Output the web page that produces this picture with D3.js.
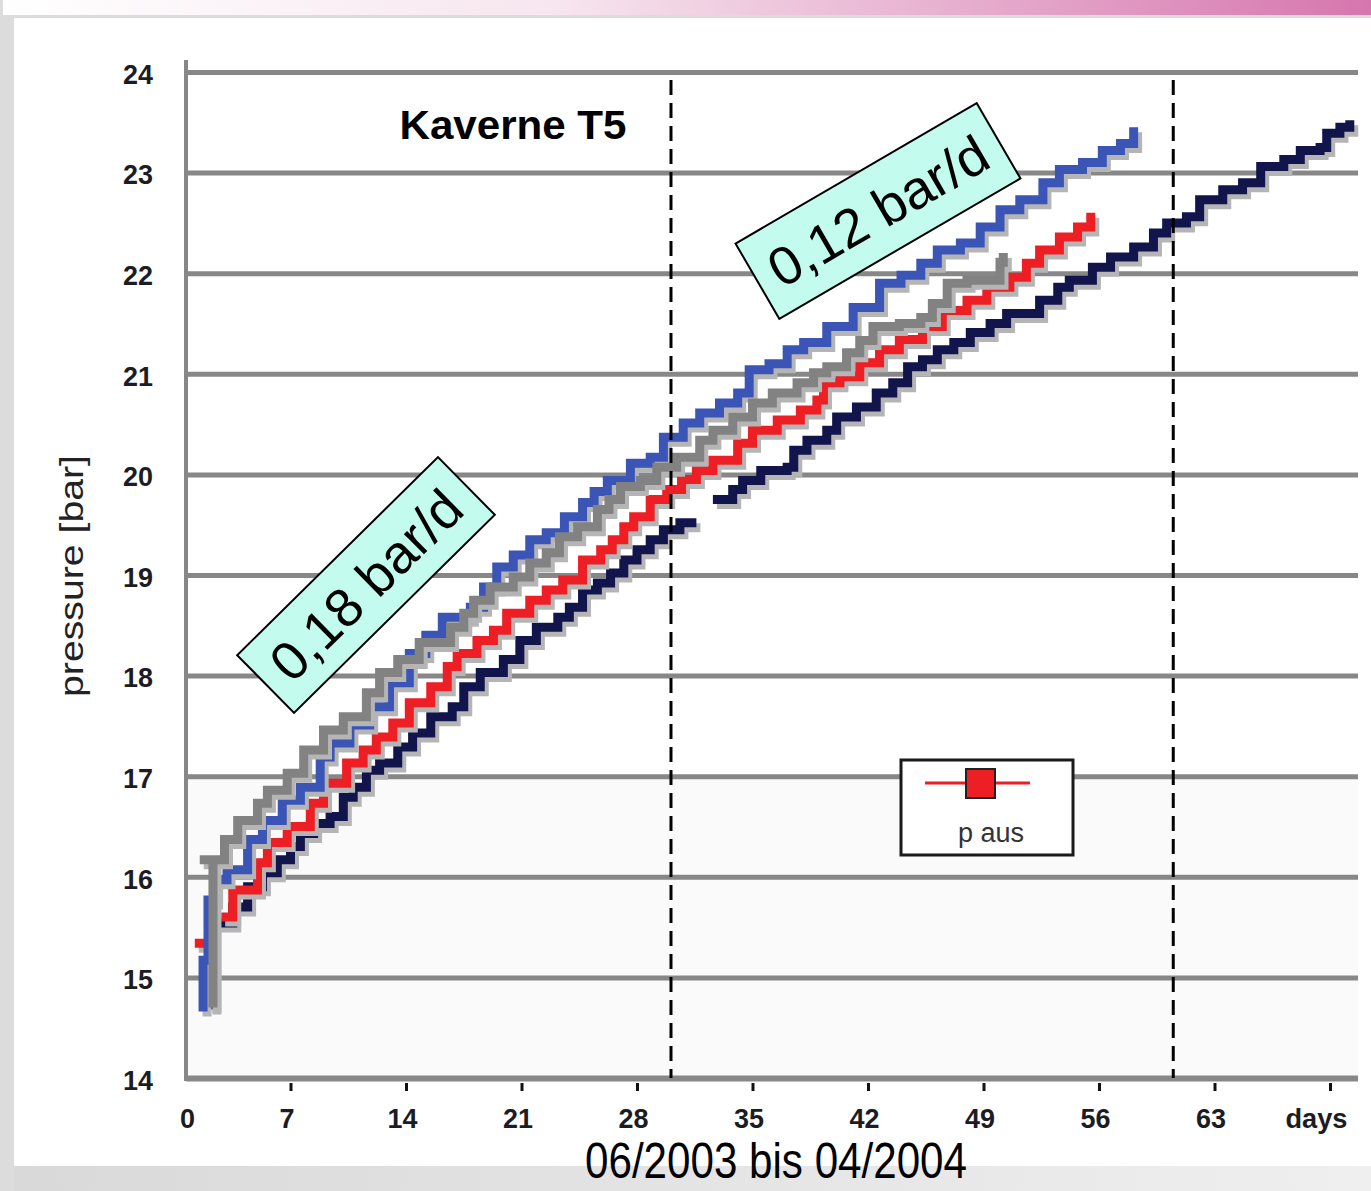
<!DOCTYPE html>
<html>
<head>
<meta charset="utf-8">
<script src="https://cdn.jsdelivr.net/npm/d3@7"></script>
<style>
body { margin: 0; background: #dcdcdc; }
svg { display: block; }
</style>
</head>
<body>
<div class="chart"></div>
<script>
// pressure ticks and day ticks
var yTicks = [14, 15, 16, 17, 18, 19, 20, 21, 22, 23, 24];
var xTicks = [0, 7, 14, 21, 28, 35, 42, 49, 56, 63, 70];
var phaseDays = [30.06, 60.5];

// p aus curves, [day, bar] (null = gap)
var navyPts = [[2.3,14.68],[2.3,15.54],[1.9,15.54],[3.5,15.7],[4.4,15.9],[5.3,16.04],[6.2,16.17],[7.0,16.3],
    [7.6,16.43],[8.4,16.53],[9.4,16.6],[10.2,16.79],[10.8,16.89],[11.6,17.06],[12.4,17.13],[13.5,17.29],
    [14.4,17.43],[15.5,17.59],[16.8,17.69],[17.5,17.89],[18.5,18.03],[19.9,18.16],[20.9,18.35],[21.9,18.48],
    [23.2,18.58],[23.9,18.68],[24.7,18.85],[25.6,18.92],[26.4,19.02],[27.2,19.15],[28.0,19.25],[28.8,19.35],
    [29.6,19.45],[30.6,19.52],[31.6,19.52],null,
    [32.6,19.75],[33.8,19.85],[34.4,19.94],[35.5,20.04],[37.1,20.07],[37.5,20.24],[38.3,20.34],[39.5,20.44],
    [40.1,20.57],[41.3,20.67],[42.5,20.81],[43.5,20.91],[44.4,21.07],[45.3,21.14],[46.2,21.24],[47.2,21.31],
    [48.2,21.41],[49.4,21.5],[50.4,21.6],[52.4,21.73],[53.5,21.86],[54.2,21.93],[55.6,22.06],[56.7,22.16],
    [58.1,22.26],[59.3,22.4],[60.1,22.5],[61.3,22.56],[62.1,22.73],[63.5,22.83],[64.7,22.9],[65.8,23.06],
    [67.2,23.13],[68.2,23.22],[69.4,23.25],[69.8,23.39],[70.6,23.45],[71.2,23.52]];

var redPts = [[1.2,15.34],[2.0,15.34],null,
    [2.8,15.6],[3.5,15.87],[5.0,16.14],[5.6,16.34],[6.8,16.5],[8.2,16.73],[9.0,16.93],[10.4,17.13],
    [11.4,17.26],[12.2,17.39],[13.2,17.53],[14.2,17.73],[15.5,17.89],[16.5,18.09],[17.1,18.22],[18.3,18.35],
    [19.3,18.45],[20.1,18.62],[21.5,18.75],[22.5,18.85],[23.5,18.95],[24.7,19.15],[25.8,19.25],[26.5,19.35],
    [27.2,19.48],[27.8,19.58],[28.8,19.75],[29.8,19.85],[30.7,19.95],[31.6,20.04],[32.6,20.14],[34.1,20.31],
    [35.0,20.44],[36.5,20.54],[37.9,20.64],[38.9,20.74],[39.3,20.91],[40.3,20.97],[41.5,21.11],[42.7,21.24],
    [43.9,21.34],[45.3,21.47],[46.5,21.63],[48.0,21.73],[49.2,21.86],[50.6,21.96],[51.6,22.1],[52.4,22.23],
    [53.6,22.36],[54.7,22.46],[55.5,22.6]];

var bluePts = [[1.7,14.66],[1.7,15.17],[2.0,15.77],[2.4,15.97],[3.15,16.07],[4.4,16.37],[5.3,16.56],[6.5,16.76],
    [7.6,16.89],[8.8,17.19],[9.4,17.33],[10.6,17.51],[11.8,17.69],[13.0,17.93],[14.2,18.22],[15.2,18.4],
    [16.2,18.58],[17.9,18.68],[18.7,18.88],[19.5,19.08],[20.5,19.2],[21.5,19.35],[22.5,19.42],[23.6,19.58],
    [24.7,19.72],[25.4,19.83],[26.2,19.94],[27.6,20.11],[28.8,20.17],[29.6,20.37],[30.8,20.51],[31.8,20.61],
    [33.0,20.71],[34.1,20.81],[34.8,21.04],[36.0,21.1],[37.1,21.24],[38.1,21.31],[39.5,21.47],[41.1,21.66],
    [42.7,21.9],[44.0,21.98],[45.2,22.1],[46.2,22.23],[47.6,22.3],[48.8,22.46],[50.0,22.63],[51.2,22.73],
    [52.6,22.9],[53.6,23.03],[55.0,23.1],[56.2,23.22],[57.3,23.29],[58.1,23.45]];

var grayPts = [[2.3,14.7],[2.3,16.17],[1.5,16.17],[3.0,16.37],[3.8,16.56],[5.0,16.73],[5.6,16.86],[6.8,17.03],
    [7.8,17.26],[9.0,17.46],[10.2,17.59],[11.6,17.83],[12.4,18.03],[13.5,18.16],[14.8,18.33],[16.7,18.48],
    [17.5,18.62],[18.1,18.75],[19.1,18.88],[20.5,18.98],[21.5,19.12],[22.5,19.22],[23.3,19.38],[24.4,19.48],
    [25.6,19.65],[26.3,19.75],[27.0,19.88],[28.2,19.94],[29.2,20.07],[30.4,20.17],[31.8,20.34],[32.6,20.44],
    [33.8,20.57],[35.0,20.71],[36.2,20.81],[37.7,20.91],[38.7,21.01],[39.5,21.07],[40.7,21.21],[41.5,21.33],
    [42.3,21.47],[43.9,21.5],[45.2,21.56],[45.9,21.7],[46.8,21.9],[48.0,21.93],[50.0,22.11],[50.2,22.2]];

var series = [
    { name: "navy", color: "#12144c", pts: navyPts },
    { name: "red",  color: "#ee1f24", pts: redPts },
    { name: "blue", color: "#3a55b5", pts: bluePts },
    { name: "gray", color: "#828282", pts: grayPts }
];

var sans = "'Liberation Sans', Arial, sans-serif";

var svg = d3.select(".chart")
    .append("svg")
    .attr("width", 1371)
    .attr("height", 1191);

var defs = svg.append("defs");
var grad = defs.append("linearGradient").attr("id", "banner");
grad.append("stop").attr("offset", "0%").attr("stop-color", "#ffffff");
grad.append("stop").attr("offset", "40%").attr("stop-color", "#f7e6ef");
grad.append("stop").attr("offset", "100%").attr("stop-color", "#d676ae");

var bottomGrad = defs.append("linearGradient").attr("id", "bottom");
bottomGrad.append("stop").attr("offset", "0%").attr("stop-color", "#d9d9d9");
bottomGrad.append("stop").attr("offset", "100%").attr("stop-color", "#efefef");

// page frame
svg.append("rect").attr("width", 1371).attr("height", 1191).style("fill", "#dcdcdc");
svg.append("rect").attr("x", 3).attr("y", 0).attr("width", 1368).attr("height", 15).style("fill", "url(#banner)");
svg.append("rect").attr("x", 14).attr("y", 18).attr("width", 1357).attr("height", 1148).style("fill", "#fff");
svg.append("rect").attr("x", 14).attr("y", 1166).attr("width", 1357).attr("height", 25).style("fill", "url(#bottom)");

var x = d3.scaleLinear().domain([0, 70]).range([175, 1330]);
var y = d3.scaleLinear().domain([14, 24]).range([1078, 72]);

// faint tint in lower part of plot
svg.append("rect")
    .attr("x", 188).attr("y", y(17))
    .attr("width", 1170).attr("height", y(14) - y(17))
    .style("fill", "#f9faf9");

// grid + y labels
var yAxis = svg.append("g")
    .attr("transform", "translate(186,0)")
    .call(d3.axisLeft(y).tickValues(yTicks).tickSize(-1172).tickPadding(33));
yAxis.select(".domain").remove();
yAxis.selectAll(".tick line")
    .style("stroke", "#878787")
    .style("stroke-width", function(d) { return d == 14 ? 6 : 5; });
yAxis.selectAll(".tick text")
    .attr("dy", "0.42em")
    .attr("textLength", 30)
    .attr("lengthAdjust", "spacingAndGlyphs")
    .style("font-family", sans)
    .style("font-weight", "bold")
    .style("font-size", "27px")
    .style("fill", "#1c1c24");

svg.append("line")
    .attr("x1", 186).attr("x2", 186)
    .attr("y1", 60).attr("y2", 1081)
    .style("stroke", "#878787")
    .style("stroke-width", 4);

// x axis ticks + labels
var xAxis = svg.append("g")
    .attr("transform", "translate(0,1078)")
    .call(d3.axisBottom(x).tickValues(xTicks).tickSize(13)
        .tickFormat(function(d) { return d == 70 ? "days" : d; }));
xAxis.select(".domain").remove();
xAxis.selectAll(".tick line")
    .attr("y1", 5)
    .style("stroke", "#111")
    .style("stroke-width", 3);
xAxis.selectAll(".tick line").filter(function(d) { return d == 0; }).remove();
xAxis.selectAll(".tick text")
    .attr("y", 50).attr("dy", 0)
    .attr("x", function(d) { return d == 70 ? -14 : (d == 0 ? 12 : -4); })
    .style("font-family", sans)
    .style("font-weight", "bold")
    .style("font-size", "27px")
    .style("fill", "#1c1c24");
xAxis.selectAll(".tick text")
    .filter(function(d) { return d >= 10 && d < 70; })
    .attr("textLength", 30)
    .attr("lengthAdjust", "spacingAndGlyphs");
xAxis.selectAll(".tick text")
    .filter(function(d) { return d == 70; })
    .attr("textLength", 62)
    .attr("lengthAdjust", "spacingAndGlyphs");

// curves: grey drop shadow then colour
var line = d3.line()
    .defined(function(d) { return d !== null; })
    .x(function(d) { return x(d[0]); })
    .y(function(d) { return y(d[1]); })
    .curve(d3.curveStepAfter);

var curves = svg.append("g");
series.forEach(function(s) {
    curves.append("path")
        .attr("d", line(s.pts))
        .attr("transform", "translate(4,5)")
        .style("fill", "none")
        .style("stroke", "#b5b5b5")
        .style("stroke-width", 9);
    curves.append("path")
        .attr("class", "curve " + s.name)
        .attr("d", line(s.pts))
        .style("fill", "none")
        .style("stroke", s.color)
        .style("stroke-width", 9);
});

// phase boundaries
svg.selectAll(".phase")
    .data(phaseDays)
    .enter().append("line")
    .attr("class", "phase")
    .attr("x1", function(d) { return x(d); })
    .attr("x2", function(d) { return x(d); })
    .attr("y1", 80).attr("y2", 1078)
    .style("stroke", "#000")
    .style("stroke-width", 3)
    .style("stroke-dasharray", "15,8");

// title
svg.append("text")
    .attr("x", 513).attr("y", 139)
    .attr("text-anchor", "middle")
    .attr("textLength", 227)
    .attr("lengthAdjust", "spacingAndGlyphs")
    .style("font-family", sans)
    .style("font-weight", "bold")
    .style("font-size", "41px")
    .style("fill", "#000")
    .text("Kaverne T5");

// y axis title
svg.append("text")
    .attr("transform", "translate(83,576) rotate(-90)")
    .attr("text-anchor", "middle")
    .attr("textLength", 242)
    .attr("lengthAdjust", "spacingAndGlyphs")
    .style("font-family", sans)
    .style("font-size", "33px")
    .style("fill", "#222")
    .text("pressure [bar]");

// rate callouts
var callouts = [
    { cx: 366, cy: 585, angle: -44.6, w: 282, h: 81, label: "0,18 bar/d" },
    { cx: 878, cy: 211, angle: -30.2, w: 279, h: 87, label: "0,12 bar/d" }
];
var box = svg.selectAll(".callout")
    .data(callouts)
    .enter().append("g")
    .attr("class", "callout")
    .attr("transform", function(d) { return "translate(" + d.cx + "," + d.cy + ") rotate(" + d.angle + ")"; });
box.append("rect")
    .attr("x", function(d) { return -d.w / 2; })
    .attr("y", function(d) { return -d.h / 2; })
    .attr("width", function(d) { return d.w; })
    .attr("height", function(d) { return d.h; })
    .style("fill", "#c3fcee")
    .style("stroke", "#000")
    .style("stroke-width", 2);
box.append("text")
    .attr("y", 19)
    .attr("text-anchor", "middle")
    .attr("textLength", 245)
    .attr("lengthAdjust", "spacingAndGlyphs")
    .style("font-family", sans)
    .style("font-size", "54px")
    .style("fill", "#000")
    .text(function(d) { return d.label; });

// legend
var legend = svg.append("g").attr("transform", "translate(901,760)");
legend.append("rect")
    .attr("width", 172).attr("height", 95)
    .style("fill", "#fff")
    .style("stroke", "#1a1a1a")
    .style("stroke-width", 3);
legend.append("line")
    .attr("x1", 24).attr("x2", 129)
    .attr("y1", 23).attr("y2", 23)
    .style("stroke", "#ee1f24")
    .style("stroke-width", 3);
legend.append("rect")
    .attr("x", 65).attr("y", 9)
    .attr("width", 29).attr("height", 29)
    .style("fill", "#ee1f24")
    .style("stroke", "#222")
    .style("stroke-width", 2);
legend.append("text")
    .attr("x", 90).attr("y", 82)
    .attr("text-anchor", "middle")
    .style("font-family", sans)
    .style("font-size", "27px")
    .style("fill", "#333")
    .text("p aus");

// period
svg.append("text")
    .attr("x", 776).attr("y", 1178)
    .attr("text-anchor", "middle")
    .attr("textLength", 382)
    .attr("lengthAdjust", "spacingAndGlyphs")
    .style("font-family", sans)
    .style("font-size", "50px")
    .style("fill", "#000")
    .text("06/2003 bis 04/2004");
</script>
</body>
</html>
